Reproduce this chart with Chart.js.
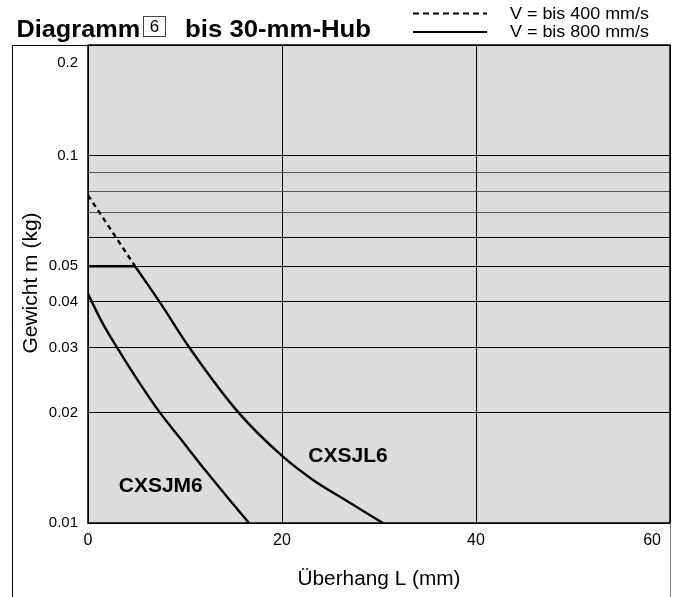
<!DOCTYPE html>
<html><head><meta charset="utf-8">
<script src="https://cdn.jsdelivr.net/npm/chart.js@4"></script>
<style>html,body{margin:0;padding:0;background:#fff;}canvas{display:block;}</style>
</head><body>
<canvas id="c" width="676" height="597"></canvas>
<script>
// ---- data ----
const xTicks = [0, 20, 40, 60];
const yGridValues = [0.01, 0.02, 0.03, 0.04, 0.05, 0.06, 0.07, 0.08, 0.09, 0.1, 0.2];
const yTickLabels = [0.2, 0.1, 0.05, 0.04, 0.03, 0.02, 0.01];
const legendNames = ['V = bis 400 mm/s', 'V = bis 800 mm/s'];
const curveNames = ['CXSJL6', 'CXSJM6'];
const titleMain = 'Diagramm';
const titleNum = '6';
const titleRest = 'bis 30-mm-Hub';
const xTitle = 'Überhang L (mm)';
const yTitle = 'Gewicht m (kg)';

// CXSJL6, V = bis 400 mm/s (dashed part)
const dashL6X = [0, 4.85];
const dashL6Y = [0.078, 0.05];
// CXSJL6, V = bis 800 mm/s (flat part + curve)
const flatL6X = [0, 4.85];
const flatL6Y = [0.05, 0.05];
const curveL6X = [4.85, 7.4, 10.5, 15.5, 20.1, 23.2, 26.7, 30.4];
const curveL6Y = [0.05, 0.0399, 0.0299, 0.0200, 0.01515, 0.0131, 0.01148, 0.01];
// CXSJM6
const curveM6X = [0, 1.5, 3.0, 5.2, 7.4, 9.5, 12.2, 14.5, 16.6];
const curveM6Y = [0.042, 0.035, 0.030, 0.0243, 0.020, 0.0170, 0.0138, 0.01164, 0.01];

const toPts = (xs, ys) => xs.map((x, i) => ({x: x, y: ys[i]}));
const FONT = '"Liberation Sans", Arial, Helvetica, sans-serif';

function txt(ctx, s, x, y, font, align, stretch, baseline) {
  ctx.save();
  ctx.translate(x, y);
  ctx.scale(stretch || 1, 1);
  ctx.font = font;
  ctx.fillStyle = '#000';
  ctx.textAlign = align || 'left';
  ctx.textBaseline = baseline || 'alphabetic';
  ctx.fillText(s, 0, 0);
  ctx.restore();
}

const deco = {
  id: 'deco',
  beforeDraw(chart) {
    const {ctx, chartArea: a} = chart;
    ctx.save();
    ctx.fillStyle = '#dcdcdc';
    ctx.fillRect(a.left, a.top, a.right - a.left, a.bottom - a.top);
    ctx.restore();
  },
  afterDraw(chart) {
    const {ctx, chartArea: a} = chart;
    const xs = chart.scales.x, ys = chart.scales.y;
    ctx.save();
    ctx.strokeStyle = '#000';
    ctx.lineWidth = 1.5;
    ctx.strokeRect(a.left, a.top, a.right - a.left, a.bottom - a.top);
    ctx.lineWidth = 1;
    ctx.beginPath();
    ctx.moveTo(12.5, 597); ctx.lineTo(12.5, a.top + 0.5); ctx.lineTo(a.right, a.top + 0.5);
    ctx.stroke();
    ctx.strokeStyle = '#777';
    ctx.beginPath();
    ctx.moveTo(a.right + 0.5, a.bottom); ctx.lineTo(a.right + 0.5, 597);
    ctx.stroke();
    ctx.restore();

    yTickLabels.forEach(v => {
      let py = ys.getPixelForValue(v);
      if (py < a.top + 10) py = a.top + 18;
      txt(ctx, String(v), a.left - 10, py, '15px ' + FONT, 'right', 1, 'middle');
    });
    xTicks.forEach(v => {
      const px = xs.getPixelForValue(v);
      if (v === xs.max) txt(ctx, String(v), px - 9, a.bottom + 18, '16px ' + FONT, 'right', 1, 'middle');
      else txt(ctx, String(v), px, a.bottom + 18, '16px ' + FONT, 'center', 1, 'middle');
    });
    txt(ctx, xTitle, (a.left + a.right) / 2, 585, '20px ' + FONT, 'center', 1.04);
    ctx.save();
    ctx.translate(31, 283);
    ctx.rotate(-Math.PI / 2);
    txt(ctx, yTitle, 0, 0, '21px ' + FONT, 'center', 1, 'middle');
    ctx.restore();

    txt(ctx, curveNames[0], xs.getPixelForValue(26.8), ys.getPixelForValue(0.01516), 'bold 21px ' + FONT, 'center', 1, 'middle');
    txt(ctx, curveNames[1], xs.getPixelForValue(7.5), ys.getPixelForValue(0.01262), 'bold 21px ' + FONT, 'center', 1, 'middle');

    txt(ctx, titleMain, 16.5, 36.5, 'bold 23px ' + FONT, 'left', 1.1);
    ctx.save();
    ctx.strokeStyle = '#444'; ctx.lineWidth = 1;
    ctx.strokeRect(143.5, 16.5, 22, 20);
    ctx.restore();
    txt(ctx, titleNum, 154.5, 27, '17px ' + FONT, 'center', 1, 'middle');
    txt(ctx, titleRest, 185, 36.5, 'bold 23px ' + FONT, 'left', 1.12);

    ctx.save();
    ctx.strokeStyle = '#000'; ctx.lineWidth = 2;
    ctx.setLineDash([6, 4]);
    ctx.beginPath(); ctx.moveTo(413, 13.5); ctx.lineTo(487, 13.5); ctx.stroke();
    ctx.setLineDash([]);
    ctx.beginPath(); ctx.moveTo(413, 32); ctx.lineTo(487, 32); ctx.stroke();
    ctx.restore();
    txt(ctx, legendNames[0], 510, 14.5, '16px ' + FONT, 'left', 1.12, 'middle');
    txt(ctx, legendNames[1], 510, 33, '16px ' + FONT, 'left', 1.12, 'middle');
  }
};

const lineStyle = {showLine: true, borderColor: '#000', borderWidth: 2.4, pointRadius: 0};

new Chart(document.getElementById('c'), {
  type: 'scatter',
  data: {
    datasets: [
      Object.assign({label: legendNames[0], data: toPts(dashL6X, dashL6Y), borderDash: [5, 4], tension: 0}, lineStyle),
      Object.assign({label: legendNames[1], data: toPts(flatL6X, flatL6Y), tension: 0}, lineStyle),
      Object.assign({label: curveNames[0], data: toPts(curveL6X, curveL6Y), cubicInterpolationMode: 'monotone'}, lineStyle),
      Object.assign({label: curveNames[1], data: toPts(curveM6X, curveM6Y), cubicInterpolationMode: 'monotone'}, lineStyle)
    ]
  },
  options: {
    responsive: false,
    devicePixelRatio: 1,
    animation: false,
    layout: {padding: {left: 88, right: 6, top: 45, bottom: 74}},
    plugins: {legend: {display: false}, tooltip: {enabled: false}, title: {display: false}},
    scales: {
      x: {
        type: 'linear', min: 0, max: 60,
        afterBuildTicks: s => { s.ticks = xTicks.map(v => ({value: v})); },
        ticks: {display: false},
        grid: {color: '#000', lineWidth: 1, drawTicks: false},
        border: {display: false}
      },
      y: {
        type: 'logarithmic', min: 0.01, max: 0.2,
        afterBuildTicks: s => { s.ticks = yGridValues.map(v => ({value: v})); },
        ticks: {display: false},
        grid: {color: c => ([0.07, 0.08, 0.09].includes(c.tick && c.tick.value) ? '#555' : '#000'), lineWidth: 1, drawTicks: false},
        border: {display: false}
      }
    }
  },
  plugins: [deco]
});
</script>
</body></html>
